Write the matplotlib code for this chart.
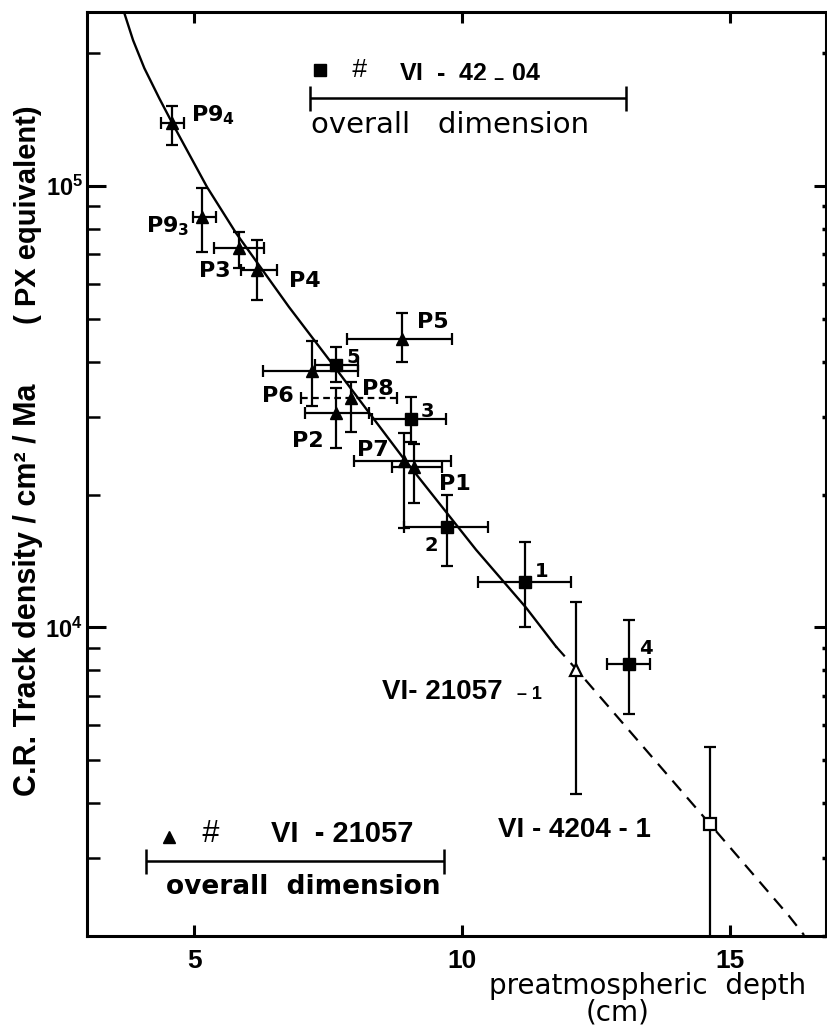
import math
import matplotlib
matplotlib.use('Agg')
import matplotlib.pyplot as plt
from matplotlib.ticker import FixedLocator, LogLocator, NullFormatter

plt.rcParams['font.family'] = ['Liberation Sans', 'DejaVu Sans']
plt.rcParams['mathtext.fontset'] = 'custom'
plt.rcParams['mathtext.rm'] = 'Liberation Sans:bold'
plt.rcParams['mathtext.it'] = 'Liberation Sans:bold'
plt.rcParams['mathtext.bf'] = 'Liberation Sans:bold'

# ---------------- data ----------------
# VI-21057 samples (filled triangles)
tri_names = ['P9$_\\mathbf{4}$', 'P9$_\\mathbf{3}$', 'P3', 'P4', 'P5', 'P6', 'P8', 'P2', 'P7', 'P1']
tri_x = [4.59, 5.15, 5.84, 6.18, 8.88, 7.20, 7.93, 7.65, 8.92, 9.10]
tri_y = [1.39e5, 8.5e4, 7.24e4, 6.45e4, 4.51e4, 3.81e4, 3.31e4, 3.06e4, 2.38e4, 2.31e4]
tri_xlo = [4.38, 4.98, 5.37, 5.88, 7.85, 6.29, 7.00, 7.07, 7.99, 8.69]
tri_xhi = [4.81, 5.41, 6.31, 6.55, 9.81, 8.06, 8.79, 8.26, 9.79, 9.63]
tri_ylo = [1.24e5, 7.1e4, 6.53e4, 5.52e4, 4.0e4, 3.18e4, 2.77e4, 2.55e4, 1.68e4, 1.91e4]
tri_yhi = [1.52e5, 9.9e4, 7.87e4, 7.55e4, 5.16e4, 4.46e4, 3.6e4, 3.49e4, 2.76e4, 2.6e4]
tri_dashed = ['P8']

# VI-42-04 samples (filled squares)
sq_names = ['5', '3', '2', '1', '4']
sq_x = [7.65, 9.05, 9.72, 11.18, 13.12]
sq_y = [3.94e4, 2.96e4, 1.69e4, 1.27e4, 8.25e3]
sq_xlo = [7.25, 8.32, 8.92, 10.30, 12.71]
sq_xhi = [8.05, 9.70, 10.49, 12.03, 13.51]
sq_ylo = [3.6e4, 2.63e4, 1.38e4, 1.0e4, 6.36e3]
sq_yhi = [4.33e4, 3.33e4, 2.0e4, 1.56e4, 1.04e4]

# open symbols
otri_x, otri_y, otri_ylo, otri_yhi = 12.13, 8.0e3, 4.19e3, 1.14e4
osq_x, osq_y, osq_ylo, osq_yhi = 14.63, 3.58e3, 1.0e3, 5.36e3

# fitted curve
curve_x = [3.69, 3.86, 4.07, 4.35, 4.59, 5.24, 5.78, 6.77, 7.52, 8.88, 10.26, 11.19, 11.75]
curve_y = [2.48e5, 2.14e5, 1.85e5, 1.58e5, 1.39e5, 9.95e4, 7.83e4, 5.32e4, 4.04e4,
           2.44e4, 1.50e4, 1.11e4, 9.06e3]
curve_dash_x = [11.75, 12.13, 14.63, 16.10, 16.38]
curve_dash_y = [9.06e3, 8.04e3, 3.58e3, 2.22e3, 2.01e3]

# overall dimension bars
dim_4204 = (7.16, 13.06, 1.58e5)
dim_21057 = (4.10, 9.66, 2.96e3)

x_ticks = [5, 10, 15]
x_tick_labels = ['5', '10', '15']
y_ticks = [1e4, 1e5]
y_tick_labels = ['$\\mathbf{10^4}$', '$\\mathbf{10^5}$']

# ---------------- figure ----------------
fig = plt.figure(figsize=(8.27, 10.28), dpi=100)
ax = fig.add_axes([87/827, (1028-936)/1028, 739/827, 924/1028])
ax.set_yscale('log')
ax.set_xlim(3.0, 16.79)
ax.set_ylim(2.0e3, 2.48e5)

ebkw = dict(ecolor='black', elinewidth=1.6, capsize=4, capthick=1.6, color='black')

# curve
ax.plot(curve_x, curve_y, color='black', lw=1.7, zorder=2)
ax.plot(curve_dash_x, curve_dash_y, color='black', lw=1.6, ls=(0, (6, 4)), zorder=2)

# triangles
for n, x, y, xl, xh, yl, yh in zip(tri_names, tri_x, tri_y, tri_xlo, tri_xhi, tri_ylo, tri_yhi):
    ax.errorbar([x], [y], yerr=[[y - yl], [yh - y]], fmt='^', ms=8, **ebkw, zorder=3)
    res = ax.errorbar([x], [y], xerr=[[x - xl], [xh - x]], fmt='none', **ebkw, zorder=3)
    if n in tri_dashed:
        for bc in res[2]:
            bc.set_linestyle((0, (3, 2)))

# squares
for n, x, y, xl, xh, yl, yh in zip(sq_names, sq_x, sq_y, sq_xlo, sq_xhi, sq_ylo, sq_yhi):
    ax.errorbar([x], [y], xerr=[[x - xl], [xh - x]], yerr=[[y - yl], [yh - y]],
                fmt='s', ms=9, **ebkw, zorder=3)

# open symbols
ax.errorbar([otri_x], [otri_y], yerr=[[otri_y - otri_ylo], [otri_yhi - otri_y]], fmt='^',
            ms=9, mfc='white', mec='black', mew=1.6, **ebkw, zorder=4)
ax.errorbar([osq_x], [osq_y], yerr=[[osq_y - osq_ylo], [osq_yhi - osq_y]], fmt='s',
            ms=9, mfc='white', mec='black', mew=1.6, **ebkw, zorder=4)

# labels of points
pkw = dict(fontsize=16, fontweight='bold', family='DejaVu Sans', math_fontfamily='dejavusans',
           va='baseline', ha='left')
lab_pos = {'P9$_\\mathbf{4}$': (4.94, 1.40e5), 'P9$_\\mathbf{3}$': (4.10, 7.87e4),
           'P3': (5.09, 6.22e4), 'P4': (6.77, 5.9e4), 'P5': (9.16, 4.77e4),
           'P6': (6.27, 3.25e4), 'P8': (8.13, 3.37e4), 'P2': (6.83, 2.56e4),
           'P7': (8.04, 2.44e4), 'P1': (9.57, 2.05e4)}
for n in tri_names:
    ax.text(*lab_pos[n], n, **pkw)
sq_pos = {'5': (7.85, 3.98e4), '3': (9.22, 3.0e4), '2': (9.29, 1.49e4),
          '1': (11.36, 1.30e4), '4': (13.30, 8.69e3)}
for n in sq_names:
    ax.text(*sq_pos[n], n, fontsize=14, fontweight='bold', family='DejaVu Sans',
            va='baseline', ha='left')

ax.text(8.51, 6.87e3, 'VI- 21057', fontsize=20, fontweight='bold', va='baseline', ha='left')
ax.text(11.03, 6.87e3, '\u2013 1', fontsize=13, fontweight='bold', va='baseline', ha='left')
ax.text(13.53, 3.35e3, 'VI - 4204 - 1', fontsize=20, fontweight='bold', va='baseline', ha='right')

# legend-like annotations (top)
ax.plot([7.35], [1.83e5], 's', color='black', ms=8)
ax.text(7.93, 1.77e5, '#', fontsize=19, fontstyle='italic', va='baseline', ha='left')
ax.text(8.82, 1.77e5, 'VI  -  42 $_{-}$ 04', fontsize=18, fontweight='bold',
        va='baseline', ha='left')
xa, xb, yd = dim_4204
ax.errorbar([(xa + xb) / 2], [yd], xerr=[[(xb - xa) / 2], [(xb - xa) / 2]], fmt='none',
            ecolor='black', elinewidth=1.8, capsize=9, capthick=1.8)
ax.text(7.18, 1.32e5, 'overall   dimension', fontsize=21, family='DejaVu Sans',
        va='baseline', ha='left')

# legend-like annotations (bottom)
ax.plot([4.53], [3.35e3], '^', color='black', ms=8)
ax.text(5.13, 3.27e3, '#', fontsize=22, fontstyle='italic', va='baseline', ha='left')
ax.text(6.44, 3.27e3, 'VI  - 21057', fontsize=21, fontweight='bold', va='baseline', ha='left')
xa, xb, yd = dim_21057
ax.errorbar([(xa + xb) / 2], [yd], xerr=[[(xb - xa) / 2], [(xb - xa) / 2]], fmt='none',
            ecolor='black', elinewidth=1.8, capsize=9, capthick=1.8)
ax.text(4.48, 2.49e3, 'overall  dimension', fontsize=19, fontweight='bold', family='DejaVu Sans',
        va='baseline', ha='left')

# ---------------- axes styling ----------------
for s in ax.spines.values():
    s.set_linewidth(2.2)
ax.set_xticks(x_ticks, x_tick_labels, fontsize=19, fontweight='bold')
ax.xaxis.set_minor_locator(FixedLocator([]))
ax.tick_params(axis='x', which='major', direction='in', length=8, width=2.2, top=True, pad=9)

ax.yaxis.set_minor_locator(LogLocator(base=10, subs=[2, 3, 4, 5, 6, 7, 8, 9], numticks=20))
ax.yaxis.set_minor_formatter(NullFormatter())
ax.set_yticks(y_ticks, y_tick_labels, fontsize=17)
ax.tick_params(axis='y', which='major', direction='in', length=14, width=2.2, pad=3, right=False)
ax.tick_params(axis='y', which='minor', direction='in', length=9, width=1.8, right=False)

ax2 = ax.twinx()
ax2.set_yscale('log')
ax2.set_ylim(ax.get_ylim())
ax2.set_yticks(y_ticks)
ax2.yaxis.set_minor_locator(LogLocator(base=10, subs=[2, 3, 4, 5, 6, 7, 8, 9], numticks=20))
ax2.yaxis.set_major_formatter(NullFormatter())
ax2.yaxis.set_minor_formatter(NullFormatter())
ax2.tick_params(axis='y', which='major', direction='in', length=9, width=2.2)
ax2.tick_params(axis='y', which='minor', direction='in', length=3, width=2.5)
for s in ax2.spines.values():
    s.set_visible(False)

# axis titles
fig.text(648/827, 1 - 986/1028, 'preatmospheric  depth', fontsize=20, family='DejaVu Sans',
         ha='center', va='center')
fig.text(618/827, 1 - 1013/1028, '(cm)', fontsize=20, family='DejaVu Sans',
         ha='center', va='center')
fig.text(28/827, 1 - 215/1028, '( PX equivalent)', fontsize=21, fontweight='bold',
         rotation=90, ha='center', va='center')
fig.text(28/827, 1 - 590/1028, 'C.R. Track density / cm\u00b2 / Ma', fontsize=22,
         fontweight='bold', rotation=90, ha='center', va='center')

fig.savefig('out.png', dpi=100)
